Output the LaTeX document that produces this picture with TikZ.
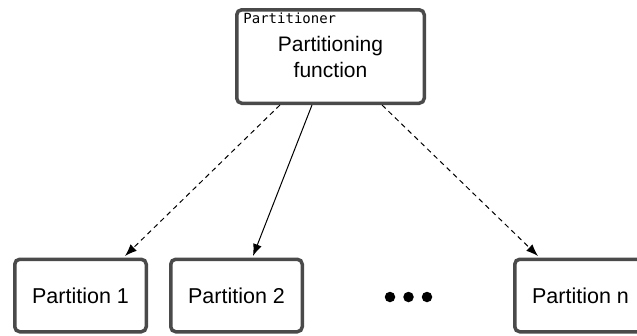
\documentclass[tikz,border=0pt]{standalone}
\usepackage{fontspec}
\setmainfont{Liberation Sans}
\newfontfamily\monofam{DejaVu Sans Mono}
\usetikzlibrary{arrows.meta}
\definecolor{boxgray}{HTML}{4A4A4A}
\tikzset{
  box/.style={draw=boxgray, line width=3.5pt, rounded corners=5pt, fill=white,
    minimum width=131.5pt, minimum height=72.5pt, inner sep=0pt,
    font=\fontsize{21.5}{25}\selectfont},
  topbox/.style={box, minimum width=187.5pt, minimum height=93.5pt, align=center,
    font=\fontsize{21}{26}\selectfont},
  conn/.style={line width=1pt, -{Latex[length=12pt,width=9pt]}},
  dashconn/.style={conn, dash pattern=on 5pt off 4pt},
  dotmark/.style={circle, fill=black, inner sep=0pt, minimum size=10.5pt}
}
\begin{document}
\begin{tikzpicture}[x=1pt,y=-1pt]
\useasboundingbox (0,0) rectangle (637,335);
\node[topbox] (top) at (330.5,56.5) {Partitioning\\function};
\node[anchor=base west, inner sep=0pt, font=\monofam\fontsize{14}{16}\selectfont]
  (lbl) at ([xshift=8.25pt,yshift=-15.5pt]top.north west) {Partitioner};
\node[box] (p1) at (80.5,295.5) {Partition 1};
\node[box] (p2) at (236.5,295.5) {Partition 2};
\node[box] (pn) at (580.5,295.5) {Partition n};
\node[dotmark] (d1) at (390,297) {};
\node[dotmark] (d2) at (408.5,297) {};
\node[dotmark] (d3) at (427,297) {};
\draw[dashconn] ([xshift=-50.5pt]top.south) -- ([xshift=44.5pt,yshift=1.5pt]p1.north);
\draw[conn] ([xshift=-18.5pt]top.south) -- ([xshift=16.5pt,yshift=1.5pt]p2.north);
\draw[dashconn] ([xshift=51.5pt]top.south) -- ([xshift=-42.5pt,yshift=1.5pt]pn.north);
\end{tikzpicture}
\end{document}
